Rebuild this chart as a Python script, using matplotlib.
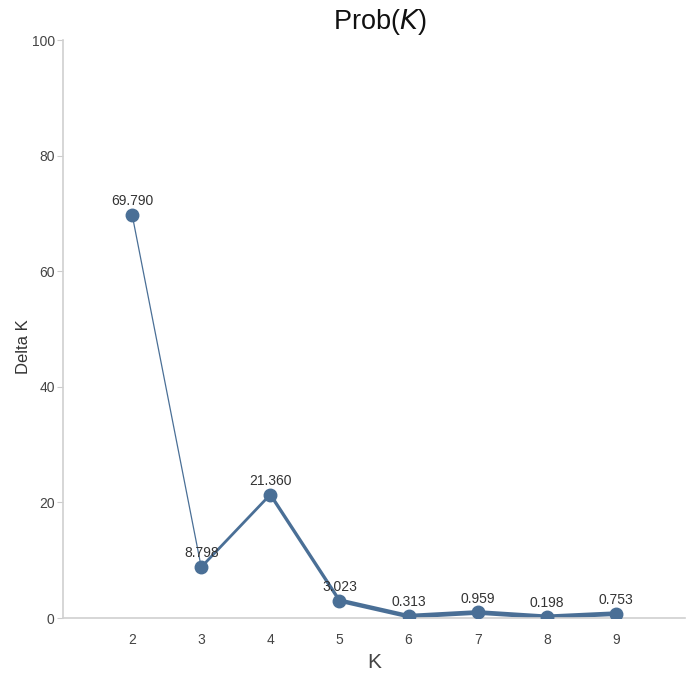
import matplotlib.pyplot as plt
from matplotlib import font_manager

k_values = [2, 3, 4, 5, 6, 7, 8, 9]
delta_k = [69.790, 8.798, 21.360, 3.023, 0.313, 0.959, 0.198, 0.753]
y_ticks = [0, 20, 40, 60, 80, 100]

names = {f.name for f in font_manager.fontManager.ttflist}
narrow = 'Liberation Sans Narrow' if 'Liberation Sans Narrow' in names else 'Liberation Sans'

color = '#4a6f96'
# segment widths mimic the stretched look of the original
seg_widths = [0.9, 2.0, 2.4, 3.2, 3.4, 3.4, 3.4]

fig = plt.figure(figsize=[6.91, 6.73], dpi=100)
ax = fig.add_axes([63 / 691, 1 - 618 / 673, 622 / 691, 578 / 673])

for i in range(len(k_values) - 1):
    ax.plot(k_values[i:i + 2], delta_k[i:i + 2], color=color,
            lw=seg_widths[i], solid_capstyle='round', zorder=2)
ax.plot(k_values, delta_k, 'o', color=color, markersize=9, zorder=3)

for k, v in zip(k_values, delta_k):
    ax.annotate(f'{v:.3f}', (k, v), xytext=(0, 5), textcoords='offset points',
                ha='center', va='bottom', fontsize=10, family=narrow,
                color='#333333')

ax.set_xlim(1, 10)
ax.set_ylim(0, 100)
ax.set_xticks(k_values)
ax.set_yticks(y_ticks)
for lab in ax.get_xticklabels() + ax.get_yticklabels():
    lab.set_family(narrow)
    lab.set_fontsize(10)
    lab.set_color('#444444')
ax.tick_params(axis='x', length=0, pad=11)
ax.tick_params(axis='y', length=4, width=0.8, color='#cccccc', pad=2)

for side in ['top', 'right']:
    ax.spines[side].set_visible(False)
for side in ['left', 'bottom']:
    ax.spines[side].set_color('#d0d0d0')
    ax.spines[side].set_linewidth(1.2)

ax.set_xlabel('K', fontsize=15, family='Liberation Sans', color='#444444')
ax.xaxis.set_label_coords((374 - 63) / 622, -(662 - 618) / 578)
ax.xaxis.label.set_va('center')
ax.set_ylabel('Delta K', fontsize=12, family='Liberation Sans', color='#333333')
ax.yaxis.set_label_coords(-(63 - 23) / 622, (618 - 347) / 578)
ax.yaxis.label.set_va('center')
fig.text(380 / 691, 1 - 22 / 673, r'Prob($\mathit{K}$)', ha='center', va='center',
         fontsize=19.5, family=narrow, color='#111111')

plt.savefig('out.png', dpi=100)
plt.close('all')
